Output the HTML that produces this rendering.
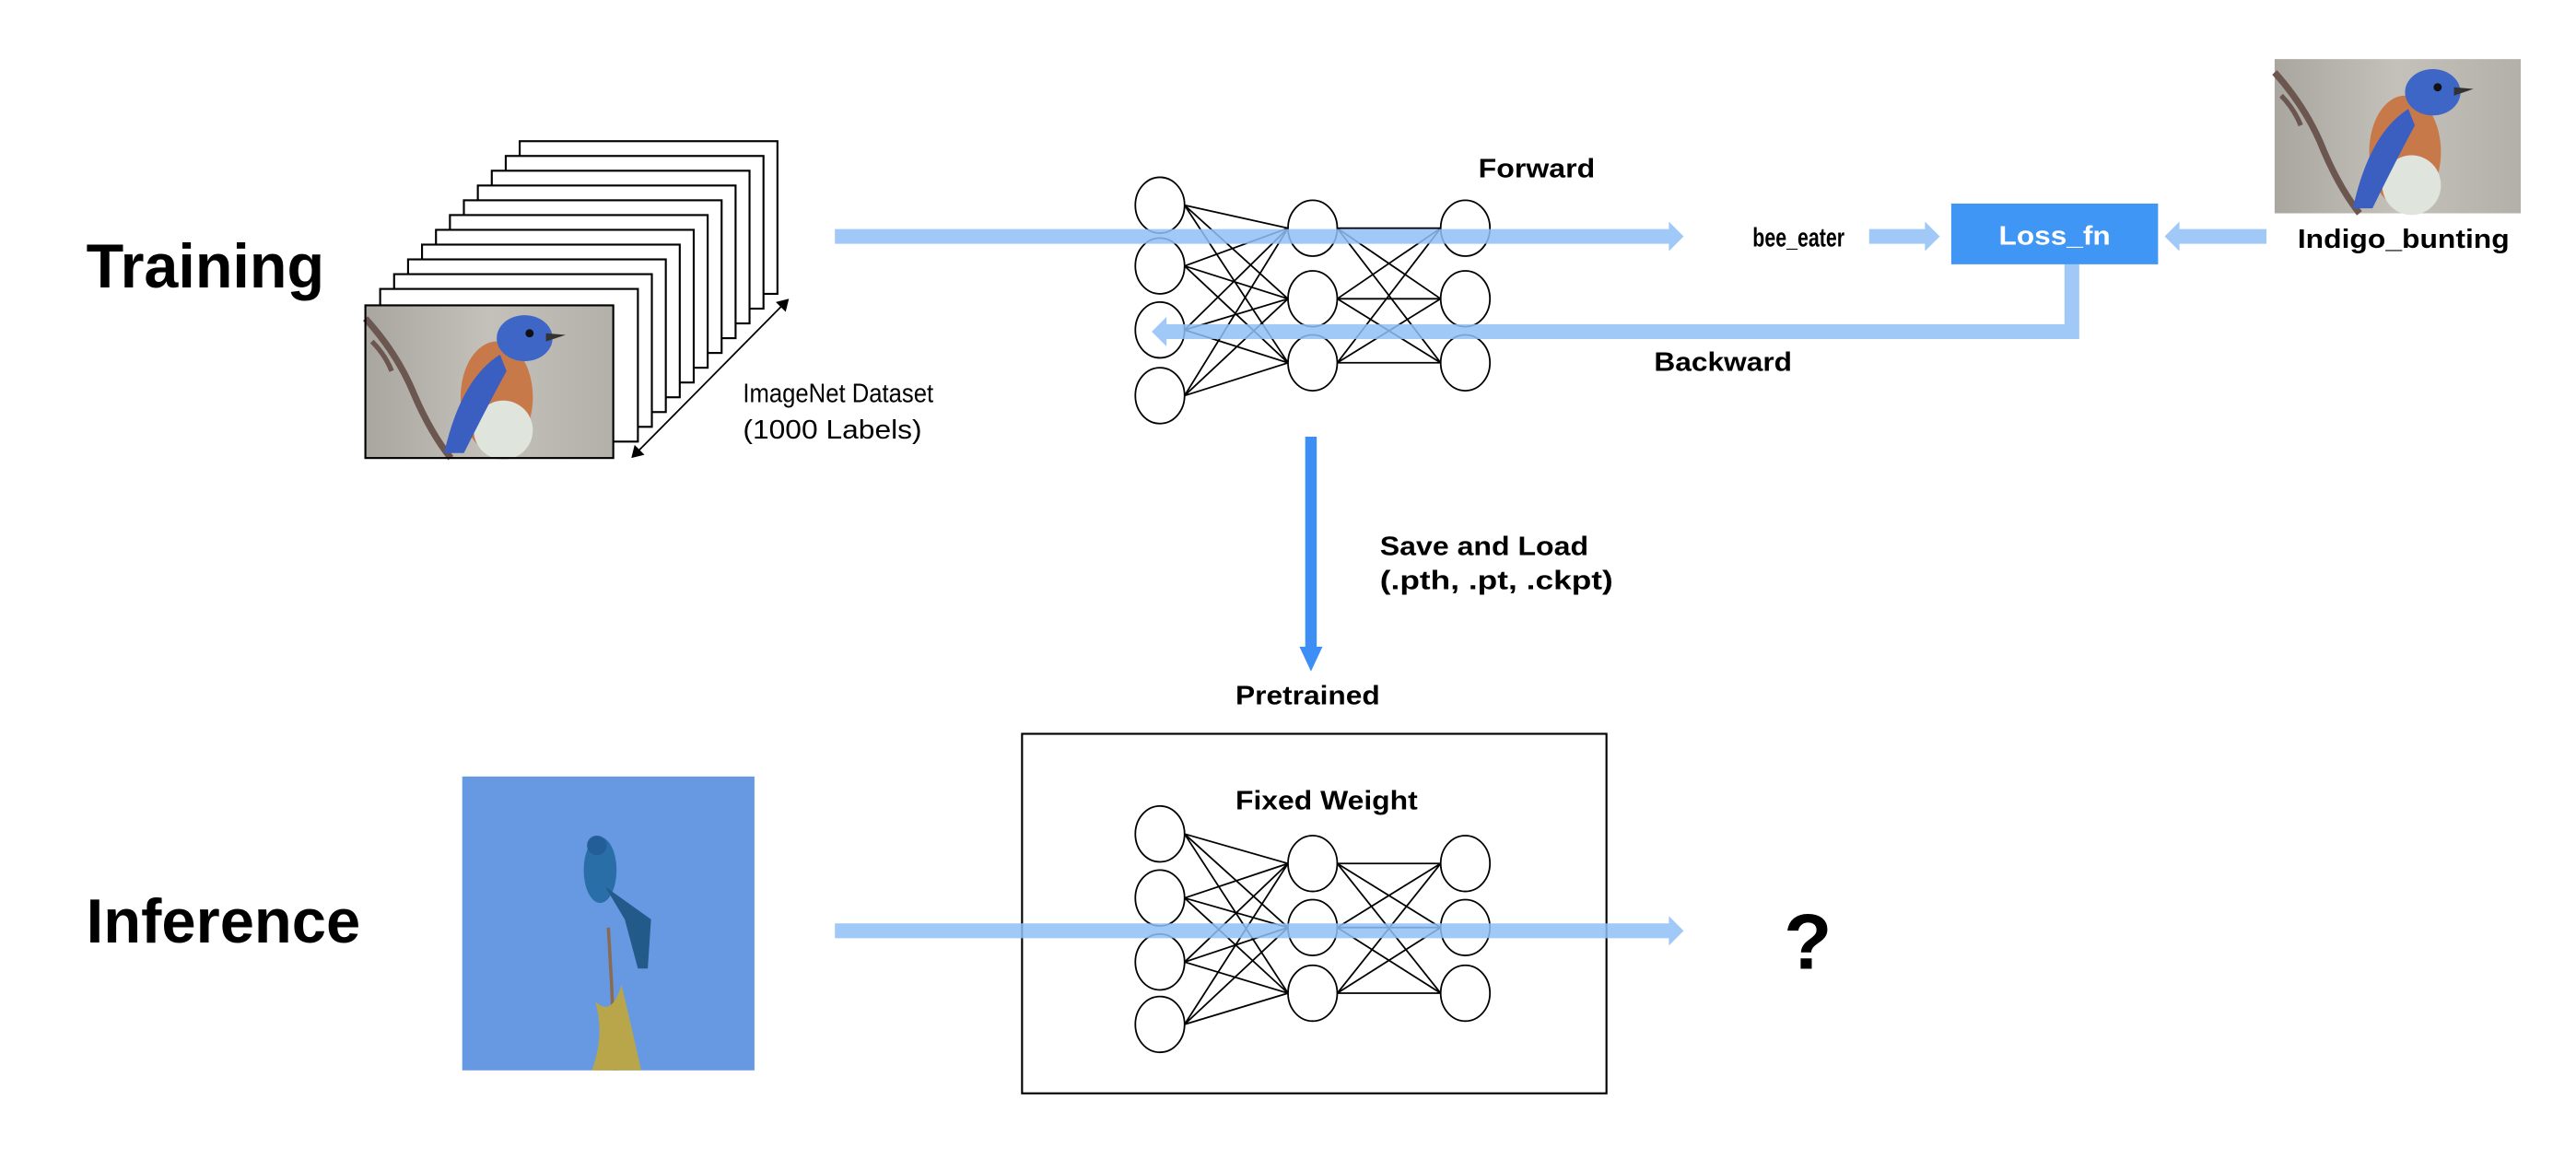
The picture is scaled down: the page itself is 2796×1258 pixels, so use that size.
<!DOCTYPE html>
<html><head><meta charset="utf-8"><style>
html,body{margin:0;padding:0;background:#fff;}
svg{display:block;}
text{font-family:"Liberation Sans",sans-serif;}
</style></head><body>
<svg width="2796" height="1258" viewBox="0 0 1568 706" xmlns="http://www.w3.org/2000/svg">
<defs>
<linearGradient id="bg" x1="0" y1="0" x2="1" y2="0"><stop offset="0" stop-color="#a9a69f"/><stop offset="0.5" stop-color="#c4c1ba"/><stop offset="1" stop-color="#b3b0aa"/></linearGradient>
<g id="bird">
<rect x="0" y="0" width="151" height="93" fill="url(#bg)"/>
<path d="M0 8 Q20 30 30 55 Q40 78 52 93" stroke="#6b5650" stroke-width="4" fill="none"/>
<path d="M4 22 Q12 30 16 40" stroke="#6b5650" stroke-width="3" fill="none"/>
<ellipse cx="80" cy="56" rx="22" ry="34" fill="#c8794a"/>
<ellipse cx="84" cy="76" rx="18" ry="18" fill="#dfe4dc"/>
<ellipse cx="97" cy="20" rx="17" ry="14" fill="#3e66c6"/>
<path d="M110 17 L122 18 L110 22Z" fill="#333"/>
<circle cx="100" cy="17" r="2.5" fill="#111"/>
<path d="M82 30 Q58 45 48 90 L60 90 Q75 60 86 40Z" fill="#3b5fc0"/>
</g>
</defs>

<text x="52" y="175" font-size="38" font-weight="bold" textLength="145" lengthAdjust="spacingAndGlyphs">Training</text>
<text x="52" y="574" font-size="38" font-weight="bold" textLength="167" lengthAdjust="spacingAndGlyphs">Inference</text>

<g fill="#fff" stroke="#000" stroke-width="1.2">
<rect x="316" y="86" width="157" height="93"/>
<rect x="307.5" y="95" width="157" height="93"/>
<rect x="299" y="104" width="157" height="93"/>
<rect x="290.5" y="113" width="157" height="93"/>
<rect x="282" y="122" width="157" height="93"/>
<rect x="273.5" y="131" width="157" height="93"/>
<rect x="265" y="140" width="157" height="93"/>
<rect x="256.5" y="149" width="157" height="93"/>
<rect x="248" y="158" width="157" height="93"/>
<rect x="239.5" y="167" width="157" height="93"/>
<rect x="231" y="176" width="157" height="93"/>
</g>
<g transform="translate(222,186)"><use href="#bird"/><rect x="0" y="0" width="151" height="93" fill="none" stroke="#000" stroke-width="1.2"/></g>
<line x1="387" y1="276" x2="477" y2="185" stroke="#000" stroke-width="1"/>
<path d="M384 279 L386 271 L392 277Z M480 182 L472 184 L478 190Z" fill="#000"/>
<text x="452" y="245" font-size="16" textLength="116" lengthAdjust="spacingAndGlyphs">ImageNet Dataset</text>
<text x="452" y="267" font-size="16" textLength="109" lengthAdjust="spacingAndGlyphs">(1000 Labels)</text>

<g stroke="#000" stroke-width="1" fill="none">
<path d="M721 125 L784 139 M721 125 L784 182 M721 125 L784 221 M721 162 L784 139 M721 162 L784 182 M721 162 L784 221 M721 201 L784 139 M721 201 L784 182 M721 201 L784 221 M721 241 L784 139 M721 241 L784 182 M721 241 L784 221"/>
<path d="M814 139 L877 139 M814 139 L877 182 M814 139 L877 221 M814 182 L877 139 M814 182 L877 182 M814 182 L877 221 M814 221 L877 139 M814 221 L877 182 M814 221 L877 221"/>
<g fill="#fff">
<ellipse cx="706" cy="125" rx="15" ry="17"/><ellipse cx="706" cy="162" rx="15" ry="17"/><ellipse cx="706" cy="201" rx="15" ry="17"/><ellipse cx="706" cy="241" rx="15" ry="17"/>
<ellipse cx="799" cy="139" rx="15" ry="17"/><ellipse cx="799" cy="182" rx="15" ry="17"/><ellipse cx="799" cy="221" rx="15" ry="17"/>
<ellipse cx="892" cy="139" rx="15" ry="17"/><ellipse cx="892" cy="182" rx="15" ry="17"/><ellipse cx="892" cy="221" rx="15" ry="17"/>
</g>
</g>

<rect x="622" y="447" width="356" height="219" fill="none" stroke="#000" stroke-width="1.2"/>
<g stroke="#000" stroke-width="1" fill="none">
<path d="M721 508 L784 526 M721 508 L784 565 M721 508 L784 605 M721 547 L784 526 M721 547 L784 565 M721 547 L784 605 M721 586 L784 526 M721 586 L784 565 M721 586 L784 605 M721 624 L784 526 M721 624 L784 565 M721 624 L784 605"/>
<path d="M814 526 L877 526 M814 526 L877 565 M814 526 L877 605 M814 565 L877 526 M814 565 L877 565 M814 565 L877 605 M814 605 L877 526 M814 605 L877 565 M814 605 L877 605"/>
<g fill="#fff">
<ellipse cx="706" cy="508" rx="15" ry="17"/><ellipse cx="706" cy="547" rx="15" ry="17"/><ellipse cx="706" cy="586" rx="15" ry="17"/><ellipse cx="706" cy="624" rx="15" ry="17"/>
<ellipse cx="799" cy="526" rx="15" ry="17"/><ellipse cx="799" cy="565" rx="15" ry="17"/><ellipse cx="799" cy="605" rx="15" ry="17"/>
<ellipse cx="892" cy="526" rx="15" ry="17"/><ellipse cx="892" cy="565" rx="15" ry="17"/><ellipse cx="892" cy="605" rx="15" ry="17"/>
</g>
</g>

<g fill="#8fc0f7" fill-opacity="0.85">
<path d="M508 139.5 H1016 V135 L1025 144 L1016 153 V148.5 H508Z"/>
<path d="M1138 139.5 H1172 V135 L1181 144 L1172 153 V148.5 H1138Z"/>
<path d="M1380 139.5 H1327 V135 L1318 144 L1327 153 V148.5 H1380Z"/>
<path d="M1257 161 H1266 V206.5 H710 V211 L701 202 L710 193 V197.5 H1257Z"/>
<path d="M508 562.5 H1016 V558 L1025 567 L1016 576 V571.5 H508Z"/>
</g>

<text x="900" y="108" font-size="16" font-weight="bold" textLength="71" lengthAdjust="spacingAndGlyphs">Forward</text>
<text x="1067" y="150" font-size="16" font-weight="bold" textLength="56" lengthAdjust="spacingAndGlyphs">bee_eater</text>
<rect x="1188" y="124" width="126" height="37" fill="#4096f5"/>
<text x="1217" y="149" font-size="16" font-weight="bold" fill="#fff" textLength="68" lengthAdjust="spacingAndGlyphs">Loss_fn</text>
<g transform="translate(1385,36) scale(0.993,1.01)"><use href="#bird"/></g>
<text x="1399" y="151" font-size="16" font-weight="bold" textLength="129" lengthAdjust="spacingAndGlyphs">Indigo_bunting</text>
<text x="1007" y="226" font-size="16" font-weight="bold" textLength="84" lengthAdjust="spacingAndGlyphs">Backward</text>

<rect x="794.5" y="266" width="7" height="130" fill="#3d8ef5"/>
<path d="M791 394 L798 409 L805 394Z" fill="#3d8ef5"/>
<text x="840" y="338" font-size="16" font-weight="bold" textLength="127" lengthAdjust="spacingAndGlyphs">Save and Load</text>
<text x="840" y="359" font-size="16" font-weight="bold" textLength="142" lengthAdjust="spacingAndGlyphs">(.pth, .pt, .ckpt)</text>
<text x="752" y="429" font-size="16" font-weight="bold" textLength="88" lengthAdjust="spacingAndGlyphs">Pretrained</text>
<text x="752" y="493" font-size="16" font-weight="bold" textLength="111" lengthAdjust="spacingAndGlyphs">Fixed Weight</text>

<text x="1086" y="590" font-size="48" font-weight="bold">?</text>

<rect x="281" y="473" width="178" height="179" fill="#6699e2"/>
<path d="M370 565 L372 600 L374 652" stroke="#8a6a50" stroke-width="2" fill="none"/>
<path d="M362 610 Q368 630 360 652 L390 652 Q384 625 378 600 Q372 620 362 610Z" fill="#b9a64a"/>
<ellipse cx="365" cy="530" rx="10" ry="20" fill="#2a6ea8"/>
<circle cx="363" cy="515" r="6" fill="#235e98"/>
<path d="M368 540 L396 560 L394 590 L388 590 L380 560Z" fill="#225a8a"/>
</svg>
</body></html>
